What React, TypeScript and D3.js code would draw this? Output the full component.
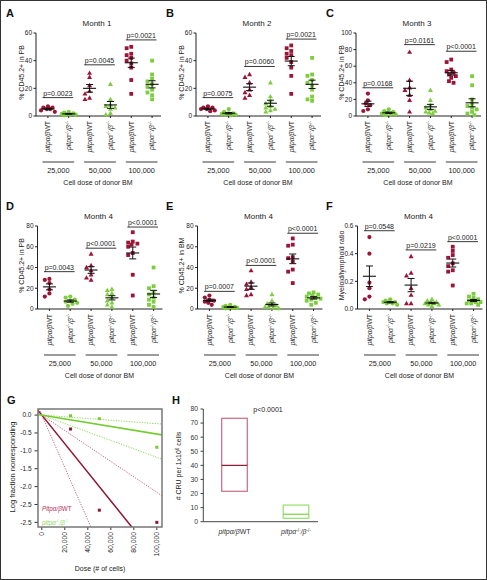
import React from "react";
import * as d3 from "d3";

const W = 487;
const H = 580;
const RED = "#9b1538";
const GREEN = "#7dcd3f";
const FONT = "'Liberation Sans', Arial, sans-serif";
const ARIAL = "'Liberation Sans', Arial, sans-serif";
const TXT = "#222";

// categories in panels A-F
const categories = ["WT-25000", "KO-25000", "WT-50000", "KO-50000", "WT-100000", "KO-100000"];
const genotypes = ["WT", "KO", "WT", "KO", "WT", "KO"];
const shapes = ["circle", "circle", "triangle", "triangle", "square", "square"];
const doseLabels = ["25,000", "50,000", "100,000"];

// A: Month 1, % CD45.2+ in PB
const month1PB = [
  [7, 6, 6, 5, 5, 4, 3],
  [3, 2.5, 2, 1.5, 1, 1, 0.5, 1],
  [31, 28, 22, 18, 16, 13, 12],
  [23, 12, 8, 7, 6, 5, 2, 1],
  [50, 49, 45, 44, 42, 40, 38, 35, 26, 16],
  [40, 30, 27, 25, 23, 21, 19, 17, 15, 12],
];
const month1P = ["p=0.0023", "p=0.0045", "p=0.0021"];
const month1PLevel = [13.3, 37, 55];

// B: Month 2
const month2PB = [
  [7, 6, 6, 5, 5, 4, 3.5],
  [5, 3, 2, 2, 1.5, 1, 1, 0.5],
  [30, 28, 24, 19, 17, 15, 13],
  [24, 14, 11, 9, 7, 6, 5, 4, 3],
  [51, 49, 47, 45, 44, 42, 39, 35, 29, 16],
  [42, 30, 29, 26, 24, 22, 19, 14, 12, 11],
];
const month2P = ["p=0.0075", "p=0.0060", "p=0.0021"];
const month2PLevel = [13.3, 35.8, 55.6];

// C: Month 3
const month3PB = [
  [27, 19, 15, 13, 8, 6],
  [8, 6, 5, 4, 3, 2, 2, 1],
  [77, 43, 34, 31, 25, 19, 5],
  [31, 19, 13, 10, 8, 6, 5, 4, 3],
  [68, 65, 56, 54, 52, 50, 48, 46, 42, 40],
  [48, 37, 20, 15, 12, 10, 8, 5, 3, 1],
];
const month3P = ["p=0.0168", "p=0.0161", "p<0.0001"];
const month3PLevel = [34, 86, 78];

// D: Month 4 PB
const month4PB = [
  [29, 28, 25, 19, 15, 12],
  [12, 11, 9, 8, 7, 6, 5, 3],
  [53, 42, 40, 37, 33, 30, 28],
  [19, 18, 15, 14, 11, 8, 6, 4, 2],
  [74, 65, 64, 63, 62, 60, 54, 52, 33, 13],
  [40, 22, 20, 16, 14, 11, 9, 7, 4, 2],
];
const month4PBP = ["p=0.0043", "p<0.0001", "p<0.0001"];
const month4PBPLevel = [36, 58.6, 79];

// E: Month 4 BM
const month4BM = [
  [13, 11, 9, 8, 7, 6, 4],
  [4, 3, 2, 2, 1.5, 1, 1, 0.5],
  [37, 26, 24, 21, 19, 14, 13],
  [14, 8, 5, 4, 3, 2, 2, 1, 0.5],
  [68, 62, 61, 50, 49, 46, 38, 36, 25],
  [16, 15, 14, 13, 12, 11, 10, 9, 8, 6, 4],
];
const month4BMP = ["p=0.0007", "p<0.0001", "p<0.0001"];
const month4BMPLevel = [17, 42, 73];

// F: Month 4 myeloid/lymphoid ratio
const month4Ratio = [
  [0.52, 0.4, 0.19, 0.15, 0.09, 0.07],
  [0.07, 0.06, 0.05, 0.05, 0.05, 0.04, 0.04, 0.03],
  [0.38, 0.26, 0.24, 0.15, 0.1, 0.04, 0.04],
  [0.07, 0.06, 0.05, 0.05, 0.04, 0.04, 0.03, 0.03, 0.02],
  [0.45, 0.42, 0.39, 0.37, 0.33, 0.31, 0.28, 0.27, 0.17],
  [0.11, 0.09, 0.08, 0.07, 0.06, 0.06, 0.05, 0.05, 0.04, 0.04, 0.03],
];
const month4RatioP = ["p=0.0548", "p=0.0219", "p<0.0001"];
const month4RatioPLevel = [0.566, 0.427, 0.487];

// G: limiting dilution
const ldDoses = [25000, 50000, 100000];
const ldWT = [-0.39, -2.66, -3.0];
const ldKO = [-0.02, -0.1, -0.9];
const gYTicks = [0, -0.5, -1.0, -1.5, -2.0, -2.5, -3.0];
const gYTickLabels = ["0.0", "-0.5", "-1.0", "-1.5", "-2.0", "-2.5", "-2.5"];
const gXTicks = [0, 20000, 40000, 60000, 80000, 100000];

// H: CRU per 1x10^6 cells (estimate, lower, upper)
const cruGroups = ["WT", "KO"];
const cruEstimate = [40, 5.3];
const cruLower = [21.6, 2.4];
const cruUpper = [73.4, 11.8];
const cruP = "p<0.0001";
const hYTicks = [0, 10, 20, 30, 40, 50, 60, 70, 80];

const panels = [
  { letter: "A", title: "Month 1", ylab: "% CD45.2+ in PB", data: month1PB, p: month1P, pl: month1PLevel, max: 60, ticks: [0, 20, 40, 60], fmt: d3.format("d") },
  { letter: "B", title: "Month 2", ylab: "% CD45.2+ in PB", data: month2PB, p: month2P, pl: month2PLevel, max: 60, ticks: [0, 20, 40, 60], fmt: d3.format("d") },
  { letter: "C", title: "Month 3", ylab: "% CD45.2+ in PB", data: month3PB, p: month3P, pl: month3PLevel, max: 100, ticks: [0, 20, 40, 60, 80, 100], fmt: d3.format("d") },
  { letter: "D", title: "Month 4", ylab: "% CD45.2+ in PB", data: month4PB, p: month4PBP, pl: month4PBPLevel, max: 80, ticks: [0, 20, 40, 60, 80], fmt: d3.format("d") },
  { letter: "E", title: "Month 4", ylab: "% CD45.2+ in BM", data: month4BM, p: month4BMP, pl: month4BMPLevel, max: 80, ticks: [0, 20, 40, 60, 80], fmt: d3.format("d") },
  { letter: "F", title: "Month 4", ylab: "Myeloid/lymphoid ratio", data: month4Ratio, p: month4RatioP, pl: month4RatioPLevel, max: 0.6, ticks: [0, 0.2, 0.4, 0.6], fmt: d3.format(".1f") },
];

// deterministic beeswarm: keep points within +-7px of the category centre
function swarm(values: number[], y: (v: number) => number, cx: number, r: number) {
  const idx = values.map((v, i) => ({ v, i })).sort((a, b) => b.v - a.v);
  const placed: { x: number; y: number }[] = [];
  const offsets = [0, -2.3, 2.3, -4.6, 4.6, -6.9, 6.9, -1.15, 1.15, -3.45, 3.45, -5.75, 5.75];
  for (const p of idx) {
    const py = y(p.v);
    let bestOff = 0;
    let bestD = -1;
    for (const off of offsets) {
      const d = placed.length
        ? Math.min(...placed.map((q) => Math.hypot(q.x - (cx + off), q.y - py)))
        : Infinity;
      if (d >= 2 * r) {
        bestOff = off;
        bestD = Infinity;
        break;
      }
      if (d > bestD) {
        bestD = d;
        bestOff = off;
      }
    }
    placed.push({ x: cx + bestOff, y: py });
  }
  return placed;
}

function Mark({ shape, x, y, color }: { shape: string; x: number; y: number; color: string }) {
  if (shape === "circle") return <circle cx={x} cy={y} r={2.1} fill={color} />;
  if (shape === "square") return <rect x={x - 1.9} y={y - 1.9} width={3.8} height={3.8} fill={color} />;
  return <path d={`M${x},${y - 2.7}L${x - 2.5},${y + 1.7}L${x + 2.5},${y + 1.7}Z`} fill={color} />;
}

function WTLabel() {
  return (
    <>
      <tspan fontStyle="italic">pitpα/β</tspan>
      <tspan>WT</tspan>
    </>
  );
}

function KOLabel({ fs }: { fs: number }) {
  const s = fs * 0.65;
  return (
    <>
      <tspan fontStyle="italic">pitpα</tspan>
      <tspan fontSize={s} dy={-fs * 0.35}>-/-</tspan>
      <tspan fontStyle="italic" dy={fs * 0.35}>/β</tspan>
      <tspan fontSize={s} dy={-fs * 0.35}>-/-</tspan>
    </>
  );
}

function DotPanel({ p, col, row }: { p: any; col: number; row: number }) {
  const ox = col * 160;
  const oy = row * 193;
  const axisX = ox + 36 + row * 1.5;
  const axisY = oy + 116;
  const topY = oy + 33;
  const y = d3.scaleLinear().domain([0, p.max]).range([axisY, topY]);
  const x = d3.scaleBand<number>().domain(d3.range(categories.length)).range([axisX + 1.5, axisX + 126.5]);
  const bw = x.bandwidth();
  return (
    <g>
      <text x={ox + 6} y={oy + 17} fontFamily={ARIAL} fontWeight="bold" fontSize={11} fill="#111">
        {p.letter}
      </text>
      <text x={axisX + 61} y={oy + 26} textAnchor="middle" fontFamily={FONT} fontSize={8} fill={TXT}>
        {p.title}
      </text>
      <text
        transform={`translate(${ox + 22},${(axisY + topY) / 2 - 2}) rotate(-90)`}
        textAnchor="middle"
        dy="0.35em"
        fontFamily={FONT}
        fontSize={7}
        fill={TXT}
      >
        {p.ylab}
      </text>
      {/* y axis */}
      <line x1={axisX} x2={axisX} y1={axisY} y2={topY} stroke="#222" strokeWidth={1} />
      {p.ticks.map((t: number) => (
        <g key={t}>
          <line x1={axisX - 2.5} x2={axisX} y1={y(t)} y2={y(t)} stroke="#222" strokeWidth={1} />
          <text x={axisX - 4} y={y(t)} dy="0.35em" textAnchor="end" fontFamily={FONT} fontSize={6.5} fill={TXT}>
            {p.fmt(t)}
          </text>
        </g>
      ))}
      {/* x axis */}
      <line x1={axisX} x2={axisX + 125} y1={axisY} y2={axisY} stroke="#222" strokeWidth={1} />
      {categories.map((c, i) => {
        const cx = (x(i) as number) + bw / 2;
        return (
          <g key={c}>
            <line x1={cx} x2={cx} y1={axisY} y2={axisY + 2} stroke="#222" strokeWidth={1} />
            <text
              transform={`translate(${cx},${axisY + 5}) rotate(-90)`}
              textAnchor="end"
              dy="0.35em"
              fontFamily={FONT}
              fontSize={6.8}
              fill={TXT}
            >
              {genotypes[i] === "WT" ? <WTLabel /> : <KOLabel fs={6.8} />}
            </text>
          </g>
        );
      })}
      {doseLabels.map((d, g) => {
        const x1 = (x(2 * g) as number) + 5;
        const x2 = (x(2 * g + 1) as number) + bw - 5;
        return (
          <g key={d}>
            <line x1={x1} x2={x2} y1={axisY + 46} y2={axisY + 46} stroke="#222" strokeWidth={0.9} />
            <text x={(x1 + x2) / 2} y={axisY + 57} textAnchor="middle" fontFamily={FONT} fontSize={7.3} fill={TXT}>
              {d}
            </text>
          </g>
        );
      })}
      <text x={axisX + 62} y={axisY + 68.5} textAnchor="middle" fontFamily={FONT} fontSize={7} fill={TXT}>
        Cell dose of donor BM
      </text>
      {/* points */}
      {p.data.map((vals: number[], i: number) => {
        const cx = (x(i) as number) + bw / 2;
        const color = genotypes[i] === "WT" ? RED : GREEN;
        const pts = swarm(vals, y, cx, 2.0);
        const m = d3.mean(vals) as number;
        const sem = (d3.deviation(vals) as number) / Math.sqrt(vals.length);
        return (
          <g key={i}>
            {pts.map((pt, j) => (
              <Mark key={j} shape={shapes[i]} x={pt.x} y={pt.y} color={color} />
            ))}
            <line x1={cx - 6.5} x2={cx + 6.5} y1={y(m)} y2={y(m)} stroke="#111" strokeWidth={1.1} />
            <line x1={cx} x2={cx} y1={y(m - sem)} y2={y(m + sem)} stroke="#111" strokeWidth={1} />
            <line x1={cx - 3.5} x2={cx + 3.5} y1={y(m - sem)} y2={y(m - sem)} stroke="#111" strokeWidth={1} />
            <line x1={cx - 3.5} x2={cx + 3.5} y1={y(m + sem)} y2={y(m + sem)} stroke="#111" strokeWidth={1} />
          </g>
        );
      })}
      {/* p-value brackets */}
      {p.p.map((lab: string, g: number) => {
        const x1 = (x(2 * g) as number) + 5;
        const x2 = (x(2 * g + 1) as number) + bw - 6;
        const ly = y(p.pl[g]);
        return (
          <g key={g}>
            <line x1={x1} x2={x2} y1={ly} y2={ly} stroke="#222" strokeWidth={0.9} />
            <text x={(x1 + x2) / 2} y={ly - 2} textAnchor="middle" fontFamily={FONT} fontSize={7} fill={TXT}>
              {lab}
            </text>
          </g>
        );
      })}
    </g>
  );
}

function PanelG() {
  const x = d3.scaleLinear().domain([-3300, 104500]).range([38, 162]);
  const y = d3.scaleLinear().domain([0.17, -3.13]).range([409, 527]);
  const lineFor = (cru: number) =>
    d3.line<number>().x((d) => x(d)).y((d) => y((-cru / 1e6) * d))(x.domain()) as string;
  const fmt = d3.format(",");
  return (
    <g>
      <text x={7} y={404} fontFamily={ARIAL} fontWeight="bold" fontSize={11} fill="#111">
        G
      </text>
      <defs>
        <clipPath id="gclip">
          <rect x={38} y={409} width={124} height={118} />
        </clipPath>
      </defs>
      <text
        transform={`translate(12,467) rotate(-90)`}
        textAnchor="middle"
        dy="0.35em"
        fontFamily={FONT}
        fontSize={7.5}
        fill={TXT}
      >
        Log fraction nonresponding
      </text>
      {gYTicks.map((t, i) => (
        <g key={i}>
          <line x1={34.5} x2={38} y1={y(t)} y2={y(t)} stroke="#333" />
          <text x={31.5} y={y(t)} dy="0.35em" textAnchor="end" fontFamily={FONT} fontSize={6.5} fill={TXT}>
            {gYTickLabels[i]}
          </text>
        </g>
      ))}
      {gXTicks.map((t) => (
        <g key={t}>
          <line x1={x(t)} x2={x(t)} y1={527} y2={530} stroke="#333" />
          <text
            transform={`translate(${x(t)},532) rotate(-90)`}
            textAnchor="end"
            dy="0.35em"
            fontFamily={FONT}
            fontSize={6.8}
            fill={TXT}
          >
            {fmt(t)}
          </text>
        </g>
      ))}
      <text x={100} y={571} textAnchor="middle" fontFamily={FONT} fontSize={7} fill={TXT}>
        Dose (# of cells)
      </text>
      <g clipPath="url(#gclip)">
        <path d={lineFor(cruUpper[0])} stroke="#c0607a" strokeWidth={1} strokeDasharray="1.2,1.4" fill="none" />
        <path d={lineFor(cruLower[0])} stroke="#c0607a" strokeWidth={1} strokeDasharray="1.2,1.4" fill="none" />
        <path d={lineFor(cruEstimate[0])} stroke="#8e1530" strokeWidth={1.5} fill="none" />
        <path d={lineFor(cruUpper[1])} stroke="#8fd85a" strokeWidth={1} strokeDasharray="1.2,1.4" fill="none" />
        <path d={lineFor(cruLower[1])} stroke="#8fd85a" strokeWidth={1} strokeDasharray="1.2,1.4" fill="none" />
        <path d={lineFor(cruEstimate[1])} stroke="#74cc2e" strokeWidth={1.6} fill="none" />
        {ldDoses.map((d, i) => (
          <rect key={"w" + i} x={x(d) - 1.5} y={y(ldWT[i]) - 1.5} width={3} height={3} fill="#8e1530" />
        ))}
        {ldDoses.map((d, i) => (
          <rect key={"k" + i} x={x(d) - 1.5} y={y(ldKO[i]) - 1.5} width={3} height={3} fill="#74cc2e" />
        ))}
      </g>
      <rect x={38} y={409} width={124} height={118} fill="none" stroke="#777" strokeWidth={1.5} />
      <text x={42} y={510.5} fontFamily={FONT} fontSize={6.3} fill="#b5305a">
        <tspan fontStyle="italic">Pitpα/β</tspan>
        <tspan>WT</tspan>
      </text>
      <text x={42} y={524.5} fontFamily={FONT} fontSize={6.3} fill="#8fd85a">
        <KOLabel fs={6.3} />
      </text>
    </g>
  );
}

function PanelH() {
  const y = d3.scaleLinear().domain([0, 80]).range([521.7, 409]);
  const x = d3.scalePoint<string>().domain(cruGroups).range([234.5, 296]);
  const bw = 25.6;
  const boxStroke = ["#c86a80", "#95df6c"];
  const medStroke = ["#8e1530", "#7ccf44"];
  return (
    <g>
      <text x={172} y={404} fontFamily={ARIAL} fontWeight="bold" fontSize={11} fill="#111">
        H
      </text>
      <text
        transform={`translate(179,466) rotate(-90)`}
        textAnchor="middle"
        dy="0.35em"
        fontFamily={FONT}
        fontSize={7}
        fill={TXT}
      >
        # CRU per 1x10<tspan fontSize={4.5} dy={-2.5}>6</tspan>
        <tspan dy={2.5}> cells</tspan>
      </text>
      <line x1={203.3} x2={203.3} y1={409} y2={521.7} stroke="#444" />
      <line x1={203.3} x2={318} y1={521.7} y2={521.7} stroke="#444" />
      {hYTicks.map((t) => (
        <g key={t}>
          <line x1={200.5} x2={203.3} y1={y(t)} y2={y(t)} stroke="#444" />
          <text x={198} y={y(t)} dy="0.35em" textAnchor="end" fontFamily={ARIAL} fontSize={6.8} fill="#333">
            {t}
          </text>
        </g>
      ))}
      {cruGroups.map((g, i) => {
        const cx = x(g) as number;
        return (
          <g key={g}>
            <rect
              x={cx - bw / 2}
              y={y(cruUpper[i])}
              width={bw}
              height={y(cruLower[i]) - y(cruUpper[i])}
              fill="none"
              stroke={boxStroke[i]}
              strokeWidth={1.2}
            />
            <line x1={cx - bw / 2} x2={cx + bw / 2} y1={y(cruEstimate[i])} y2={y(cruEstimate[i])} stroke={medStroke[i]} strokeWidth={1.2} />
            <text x={cx} y={534} textAnchor="middle" fontFamily={ARIAL} fontSize={7} fill="#333">
              {g === "WT" ? <WTLabel /> : <KOLabel fs={7} />}
            </text>
          </g>
        );
      })}
      <text x={268} y={412} textAnchor="middle" fontFamily={ARIAL} fontSize={7} fill="#222">
        {cruP}
      </text>
    </g>
  );
}

export default function App() {
  return (
    <svg
      width={W}
      height={H}
      viewBox={`0 0 ${W} ${H}`}
      style={{ position: "absolute", left: 0, top: 0, background: "#fff" }}
    >
      <rect x={0} y={0} width={W} height={H} fill="#fff" />
      {panels.map((p, i) => (
        <DotPanel key={p.letter} p={p} col={i % 3} row={Math.floor(i / 3)} />
      ))}
      <PanelG />
      <PanelH />
      <rect x={0.5} y={0.5} width={W - 1} height={H - 1} fill="none" stroke="#333" strokeWidth={1} />
    </svg>
  );
}
